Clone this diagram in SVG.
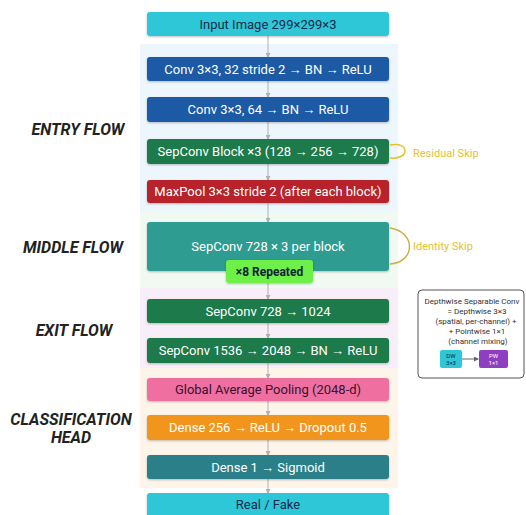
<svg xmlns="http://www.w3.org/2000/svg" width="526" height="515" viewBox="0 0 526 515">
<defs>
<style>
.t{font-family:Roboto,"Liberation Sans",sans-serif;font-size:13px;text-anchor:middle;dominant-baseline:central}
.w{fill:#ffffff}
.d{fill:#1a2a4a}
.sec{font-family:Roboto,"Liberation Sans",sans-serif;font-size:16px;font-weight:bold;font-style:italic;fill:#222;text-anchor:middle}
.skip{font-family:Roboto,"Liberation Sans",sans-serif;font-size:11px;fill:#e2c230}
.lg{font-family:Roboto,"Liberation Sans",sans-serif;font-size:8px;fill:#333;text-anchor:middle}
.conn line{stroke:#b0b0b0;stroke-width:1}
</style>
<marker id="ah" markerWidth="5" markerHeight="5" refX="4" refY="2.5" orient="auto" markerUnits="userSpaceOnUse">
<path d="M0,0 L5,2.5 L0,5 z" fill="#b0b0b0"/>
</marker>
<marker id="ah2" markerWidth="5" markerHeight="5" refX="4" refY="2.5" orient="auto" markerUnits="userSpaceOnUse">
<path d="M0,0 L5,2.5 L0,5 z" fill="#666"/>
</marker>
<filter id="sh" x="-10%" y="-20%" width="120%" height="150%">
<feDropShadow dx="0" dy="1" stdDeviation="1" flood-color="#000" flood-opacity="0.25"/>
</filter>
</defs>
<rect width="526" height="515" fill="#ffffff"/>
<!-- section bands -->
<rect x="140" y="44" width="258" height="168" fill="#edf5fd"/>
<rect x="140" y="212" width="258" height="76" fill="#f1f9f3"/>
<rect x="140" y="288" width="258" height="80" fill="#f8eef8"/>
<rect x="140" y="368" width="258" height="120" fill="#fdf5ea"/>

<g id="labels">
<text class="sec" x="78" y="135">ENTRY FLOW</text>
<text class="sec" x="73" y="253">MIDDLE FLOW</text>
<text class="sec" x="74" y="336">EXIT FLOW</text>
<text class="sec" x="71" y="425">CLASSIFICATION</text>
<text class="sec" x="71" y="443">HEAD</text>
</g>

<g id="connectors" class="conn">
<line x1="268" y1="36" x2="268" y2="57" marker-end="url(#ah)"/>
<line x1="268" y1="81" x2="268" y2="97" marker-end="url(#ah)"/>
<line x1="268" y1="122" x2="268" y2="139" marker-end="url(#ah)"/>
<line x1="268" y1="164" x2="268" y2="180" marker-end="url(#ah)"/>
<line x1="268" y1="203" x2="268" y2="222" marker-end="url(#ah)"/>
<line x1="268" y1="283" x2="268" y2="299" marker-end="url(#ah)"/>
<line x1="268" y1="323" x2="268" y2="338" marker-end="url(#ah)"/>
<line x1="268" y1="363" x2="268" y2="378" marker-end="url(#ah)"/>
<line x1="268" y1="401" x2="268" y2="415" marker-end="url(#ah)"/>
<line x1="268" y1="440" x2="268" y2="455" marker-end="url(#ah)"/>
<line x1="268" y1="479" x2="268" y2="493" marker-end="url(#ah)"/>
<path d="M390,145 C410,141 410,160 390,158" fill="none" stroke="#e2c230" stroke-width="1.5"/>
<path d="M390,228 C416,232 416,262 390,264" fill="none" stroke="#c9b04a" stroke-width="1.5"/>
</g>

<g id="input"><rect x="147" y="12" width="242" height="24" rx="3" fill="#2ec7d8" filter="url(#sh)"/><text class="t d" x="268" y="24">Input Image 299×299×3</text></g>
<g id="conv1"><rect x="147" y="57" width="242" height="24" rx="3" fill="#1f5aa6" filter="url(#sh)"/><text class="t w" x="268" y="69">Conv 3×3, 32 stride 2 → BN → ReLU</text></g>
<g id="conv2"><rect x="147" y="97" width="242" height="25" rx="3" fill="#1f5aa6" filter="url(#sh)"/><text class="t w" x="268" y="109.5">Conv 3×3, 64 → BN → ReLU</text></g>
<g id="sepblock"><rect x="147" y="139" width="242" height="25" rx="3" fill="#1b7a4c" filter="url(#sh)"/><text class="t w" x="268" y="151.5">SepConv Block ×3 (128 → 256 → 728)</text></g>
<g id="maxpool"><rect x="147" y="180" width="242" height="23" rx="3" fill="#b8232c" filter="url(#sh)"/><text class="t w" x="268" y="191.5">MaxPool 3×3 stride 2 (after each block)</text></g>
<g id="middle"><rect x="147" y="222" width="242" height="49" rx="3" fill="#2f9c91" filter="url(#sh)"/><text class="t w" x="268" y="246">SepConv 728 × 3 per block</text></g>
<g id="repeat"><rect x="226" y="260" width="87" height="23" rx="3" fill="#6ef04a" filter="url(#sh)"/><text class="t" x="269.5" y="271.5" style="fill:#123;font-weight:bold;font-size:12px">×8 Repeated</text></g>
<g id="exit1"><rect x="147" y="299" width="242" height="24" rx="3" fill="#1b7a4c" filter="url(#sh)"/><text class="t w" x="268" y="311">SepConv 728 → 1024</text></g>
<g id="exit2"><rect x="147" y="338" width="242" height="25" rx="3" fill="#1b7a4c" filter="url(#sh)"/><text class="t w" x="268" y="350.5">SepConv 1536 → 2048 → BN → ReLU</text></g>
<g id="gap"><rect x="147" y="378" width="242" height="23" rx="3" fill="#ef6fa0" filter="url(#sh)"/><text class="t" x="268" y="389.5" style="fill:#3a1030">Global Average Pooling (2048-d)</text></g>
<g id="dense256"><rect x="147" y="415" width="242" height="25" rx="3" fill="#f2951d" filter="url(#sh)"/><text class="t w" x="268" y="427.5">Dense 256 → ReLU → Dropout 0.5</text></g>
<g id="dense1"><rect x="147" y="455" width="242" height="24" rx="3" fill="#2a7f88" filter="url(#sh)"/><text class="t w" x="268" y="467">Dense 1 → Sigmoid</text></g>
<g id="output"><rect x="147" y="493" width="242" height="24" rx="3" fill="#2ec7d8" filter="url(#sh)"/><text class="t d" x="268" y="504">Real / Fake</text></g>

<g id="skips">
<text class="skip" x="413" y="157">Residual Skip</text>
<text class="skip" x="413" y="250">Identity Skip</text>
</g>

<g id="legend">
<rect x="418" y="290" width="106" height="88" rx="4" fill="#ffffff" stroke="#555" stroke-width="1"/>
<text class="lg" x="472" y="304">Depthwise Separable Conv</text>
<text class="lg" x="477" y="314">= Depthwise 3×3</text>
<text class="lg" x="476" y="324">(spatial, per-channel) +</text>
<text class="lg" x="477" y="334">+ Pointwise 1×1</text>
<text class="lg" x="478" y="344">(channel mixing)</text>
<rect x="440" y="350" width="22" height="18" rx="2" fill="#2ec7d8"/>
<text class="lg" x="451" y="357.5" style="fill:#123;font-size:6px">DW</text>
<text class="lg" x="451" y="365" style="fill:#123;font-size:6px">3×3</text>
<line x1="462" y1="359" x2="478" y2="359" stroke="#666" stroke-width="1" marker-end="url(#ah2)"/>
<rect x="479" y="350" width="29" height="18" rx="2" fill="#8e3fc0"/>
<text class="lg" x="493.5" y="357.5" style="fill:#fff;font-size:6px">PW</text>
<text class="lg" x="493.5" y="365" style="fill:#fff;font-size:6px">1×1</text>
</g>
</svg>
